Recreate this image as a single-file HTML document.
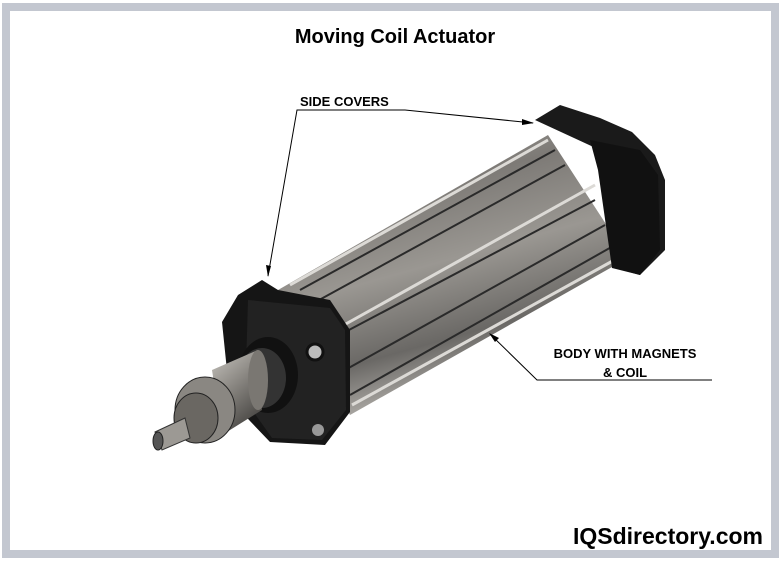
<!DOCTYPE html>
<html><head><style>
body{margin:0;background:#fff;}
svg{display:block;font-family:"Liberation Sans",Arial,sans-serif;}
</style></head><body>
<svg width="781" height="561" viewBox="0 0 781 561">
<defs>
<linearGradient id="bd" x1="0" y1="0" x2="0.35" y2="1">
<stop offset="0" stop-color="#a8a6a1"/><stop offset="0.3" stop-color="#7d7a76"/>
<stop offset="0.55" stop-color="#9a9792"/><stop offset="0.8" stop-color="#6a6865"/><stop offset="1" stop-color="#b9b6b1"/>
</linearGradient>
<linearGradient id="rod" x1="0" y1="0" x2="0.5" y2="1">
<stop offset="0" stop-color="#c9c6c0"/><stop offset="0.5" stop-color="#8a8782"/><stop offset="1" stop-color="#4a4845"/>
</linearGradient>
</defs>
<rect x="6" y="7" width="769" height="547" fill="none" stroke="#c3c7d0" stroke-width="8"/>
<text x="395" y="43" font-size="20" font-weight="bold" text-anchor="middle">Moving Coil Actuator</text>

<!-- back cover -->
<polygon points="535,120 560,105 600,118 632,132 655,155 665,180 665,250 640,275 615,268 600,150" fill="#1a1a1a"/>
<!-- body -->
<polygon points="278,290 548,135 628,258 350,415" fill="url(#bd)"/>
<g stroke="#2a2a2a" stroke-width="2">
<line x1="300" y1="290" x2="555" y2="150"/>
<line x1="310" y1="305" x2="565" y2="165"/>
<line x1="330" y1="340" x2="595" y2="200"/>
<line x1="345" y1="370" x2="605" y2="225"/>
<line x1="350" y1="395" x2="615" y2="245"/>
</g>
<g stroke="#dcdad6" stroke-width="3">
<line x1="290" y1="285" x2="548" y2="140"/>
<line x1="335" y1="330" x2="595" y2="185"/>
<line x1="352" y1="405" x2="618" y2="258"/>
</g>
<!-- back cover front face -->
<polygon points="590,140 640,150 658,175 660,250 640,275 612,268 598,170" fill="#111"/>
<!-- front cover -->
<polygon points="238,295 262,280 278,290 330,300 350,330 350,412 325,445 270,442 230,400 222,322" fill="#151515"/>
<polygon points="248,300 330,308 345,330 346,410 322,440 272,438 245,400" fill="#222"/>
<circle cx="315" cy="352" r="8" fill="#bbb" stroke="#111" stroke-width="3"/>
<circle cx="318" cy="430" r="6" fill="#999"/>
<!-- rod parts -->
<ellipse cx="268" cy="375" rx="30" ry="38" fill="#111"/>
<ellipse cx="262" cy="378" rx="24" ry="30" fill="#333"/>
<polygon points="212,370 258,350 262,410 222,435" fill="url(#rod)"/>
<ellipse cx="258" cy="380" rx="10" ry="30" fill="#7a7772"/>
<ellipse cx="205" cy="410" rx="30" ry="33" fill="#8a8782" stroke="#222"/>
<ellipse cx="196" cy="418" rx="22" ry="25" fill="#6a6762" stroke="#222"/>
<polygon points="155,432 185,418 190,438 162,450" fill="#9c9994" stroke="#333"/>
<ellipse cx="158" cy="441" rx="5" ry="9" fill="#555" stroke="#222"/>

<!-- labels -->
<text x="300" y="106" font-size="13" font-weight="bold">SIDE COVERS</text>
<polyline points="268,276 297,110 405,110 533,123" fill="none" stroke="#000" stroke-width="1"/>
<polygon points="268,277 266,265 271,266" fill="#000"/>
<polygon points="534,123 522,119 522,125" fill="#000"/>
<text x="625" y="358" font-size="13" font-weight="bold" text-anchor="middle">BODY WITH MAGNETS</text>
<text x="625" y="377" font-size="13" font-weight="bold" text-anchor="middle">&amp; COIL</text>
<polyline points="712,380 537,380 490,334" fill="none" stroke="#000" stroke-width="1"/>
<polygon points="489,333 499,338 495,342" fill="#000"/>
<text x="763" y="544" font-size="23" font-weight="bold" text-anchor="end">IQSdirectory.com</text>
</svg>
</body></html>
